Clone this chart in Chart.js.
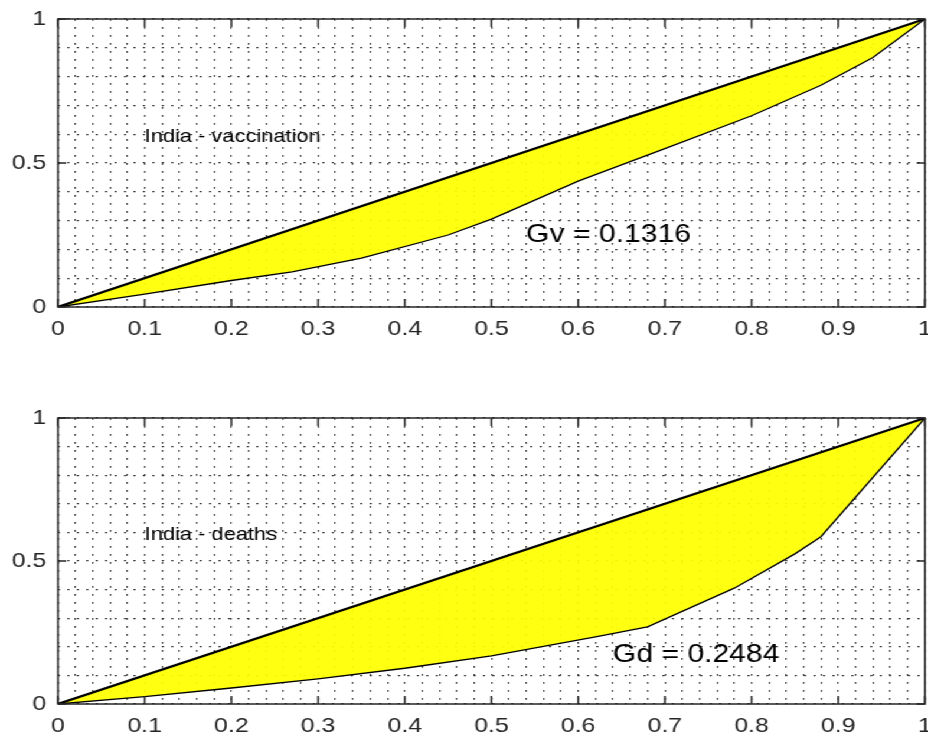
<!DOCTYPE html>
<html>
<head>
<meta charset="utf-8">
<script src="https://cdn.jsdelivr.net/npm/chart.js@4.4.0/dist/chart.umd.min.js"></script>
<style>
  html, body { margin: 0; padding: 0; background: #fff; overflow: hidden; }
  #wrap { position: absolute; left: 0; top: 0; width: 786px; height: 747px;
          transform: scaleX(1.1807); transform-origin: 0 0; }
  canvas { display: block; }
</style>
</head>
<body>
<div id="wrap">
  <canvas id="top" width="786" height="374"></canvas>
  <canvas id="bottom" width="786" height="373"></canvas>
</div>
<script>
  // Lorenz curves
  var vacX = [0, 0.1, 0.2, 0.27, 0.35, 0.45, 0.5, 0.6, 0.7, 0.8, 0.88, 0.94, 1];
  var vacY = [0, 0.045, 0.092, 0.122, 0.17, 0.25, 0.305, 0.437, 0.55, 0.664, 0.77, 0.866, 1];
  var deathX = [0, 0.1, 0.2, 0.3, 0.4, 0.5, 0.62, 0.68, 0.78, 0.85, 0.88, 1];
  var deathY = [0, 0.026, 0.056, 0.088, 0.125, 0.168, 0.235, 0.27, 0.405, 0.525, 0.585, 1];
  var equalX = [0, 1];
  var equalY = [0, 1];

  var xMajor = [0, 0.1, 0.2, 0.3, 0.4, 0.5, 0.6, 0.7, 0.8, 0.9, 1];
  var yMajor = [0, 0.5, 1];

  var AX = '#262626';
  var FONT = '"Liberation Sans", Arial, sans-serif';

  function pts(xs, ys) {
    return xs.map(function (x, i) { return { x: x, y: ys[i] }; });
  }

  function isMajor(v, list) {
    return list.some(function (m) { return Math.abs(m - v) < 1e-6; });
  }

  var frame = {
    id: 'frame',
    afterDatasetsDraw: function (chart, args, opts) {
      var ctx = chart.ctx, a = chart.chartArea;
      var xs = chart.scales.x, ys = chart.scales.y;
      ctx.save();
      ctx.strokeStyle = AX;
      ctx.lineWidth = 1.5;
      ctx.strokeRect(a.left, a.top, a.right - a.left, a.bottom - a.top);
      ctx.beginPath();
      xMajor.forEach(function (v) {
        var px = xs.getPixelForValue(v);
        ctx.moveTo(px, a.bottom); ctx.lineTo(px, a.bottom - 8);
        ctx.moveTo(px, a.top); ctx.lineTo(px, a.top + 8);
      });
      yMajor.forEach(function (v) {
        var py = ys.getPixelForValue(v);
        ctx.moveTo(a.left, py); ctx.lineTo(a.left + 7, py);
        ctx.moveTo(a.right, py); ctx.lineTo(a.right - 7, py);
      });
      ctx.stroke();

      ctx.fillStyle = '#000';
      ctx.textBaseline = 'middle';
      ctx.textAlign = 'left';
      ctx.font = '18.5px ' + FONT;
      ctx.fillText(opts.name, xs.getPixelForValue(0.1), ys.getPixelForValue(0.59));
      ctx.font = '25.5px ' + FONT;
      ctx.fillText(opts.gini, xs.getPixelForValue(opts.gx), ys.getPixelForValue(opts.gy));
      ctx.restore();
    }
  };

  function makeChart(id, cx, cy, padTop, xHeight, name, gini, gx, gy) {
    var grid = {
      color: 'rgba(30,30,30,0.9)',
      lineWidth: 1.2,
      drawTicks: false
    };
    return new Chart(document.getElementById(id), {
      type: 'line',
      data: {
        datasets: [
          {
            data: pts(equalX, equalY),
            borderColor: '#000',
            borderWidth: 2.2,
            pointRadius: 0,
            tension: 0,
            fill: false
          },
          {
            data: pts(cx, cy),
            borderColor: '#000',
            borderWidth: 1.3,
            pointRadius: 0,
            tension: 0,
            fill: { target: 0 },
            backgroundColor: 'rgba(255,255,0,0.93)'
          }
        ]
      },
      options: {
        responsive: false,
        animation: false,
        events: [],
        layout: { padding: { top: padTop, right: 2.6, left: 0, bottom: 0 } },
        plugins: {
          legend: { display: false },
          tooltip: { enabled: false },
          frame: { name: name, gini: gini, gx: gx, gy: gy }
        },
        scales: {
          x: {
            type: 'linear',
            min: 0,
            max: 1,
            border: { display: false, dash: [1.8, 6.2] },
            grid: grid,
            afterFit: function (s) {
              s.height = xHeight;
              s.paddingLeft = 0;
              s.paddingRight = 0;
            },
            ticks: {
              stepSize: 0.02,
              autoSkip: false,
              maxRotation: 0,
              minRotation: 0,
              padding: 10,
              color: AX,
              font: { family: FONT, size: 21 },
              callback: function (v) {
                return isMajor(v, xMajor) ? String(Math.round(v * 10) / 10) : '';
              }
            }
          },
          y: {
            type: 'linear',
            min: 0,
            max: 1,
            border: { display: false, dash: [1.8, 6.2] },
            grid: grid,
            afterFit: function (s) {
              s.width = 49.1;
              s.paddingTop = 0;
              s.paddingBottom = 0;
            },
            ticks: {
              stepSize: 0.1,
              autoSkip: false,
              padding: 10,
              color: AX,
              font: { family: FONT, size: 21 },
              callback: function (v) {
                return isMajor(v, yMajor) ? String(Math.round(v * 10) / 10) : '';
              }
            }
          }
        }
      },
      plugins: [frame]
    });
  }

  makeChart('top', vacX, vacY, 19, 374 - 307, 'India - vaccination', 'Gv = 0.1316', 0.54, 0.25);
  makeChart('bottom', deathX, deathY, 44, 373 - 330, 'India - deaths', 'Gd = 0.2484', 0.64, 0.17);
</script>
</body>
</html>
